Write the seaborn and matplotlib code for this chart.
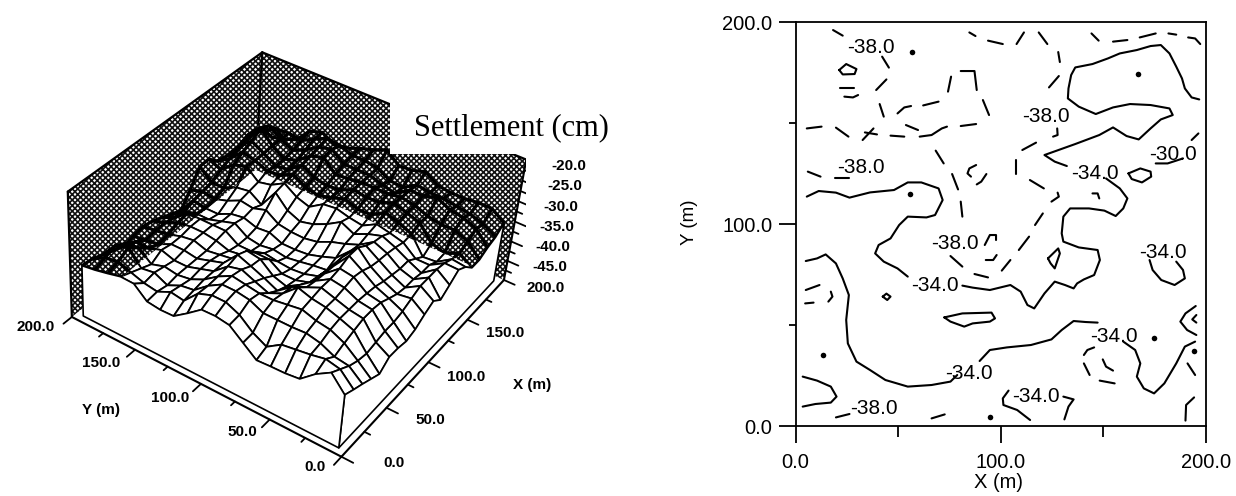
import numpy as np
import matplotlib
matplotlib.use('Agg')
import matplotlib.pyplot as plt
import seaborn as sns
from matplotlib.patches import Rectangle
from matplotlib.path import Path
from mpl_toolkits.mplot3d import proj3d
from mpl_toolkits.mplot3d.art3d import Poly3DCollection

# Step 1: values
x_nodes = [5, 15, 25, 35, 45, 55, 65, 75, 85, 95, 105, 115, 125, 135, 145, 155, 165, 175, 185, 195]
y_nodes = [195, 185, 175, 165, 155, 145, 135, 125, 115, 105, 95, 85, 75, 65, 55, 45, 35, 25, 15, 5]
settlement_z = [
    [-37.5, -37.8, -38.8, -39.7, -40.7, -40, -39.5, -40, -41, -42, -43, -39.5, -35.4, -35.3, -37.5, -38, -39, -38.5, -37.5, -37.2],
    [-37, -36, -35, -36.5, -38, -39.5, -39, -39, -39.5, -40, -39, -38.5, -38, -36.5, -35.5, -34, -33, -33.2, -35, -38.5],
    [-36.3, -35.5, -34, -36, -38, -39, -38.5, -37.5, -37, -39, -39.5, -39, -38, -34, -32.5, -31.5, -30, -31, -33.5, -37.7],
    [-35.5, -36.5, -37.5, -38.5, -37, -37.5, -37.5, -37, -37, -39, -39.5, -38, -36.5, -33, -33.3, -33.2, -33, -33, -33.2, -36.5],
    [-35.6, -37.5, -37, -37.5, -38, -37.5, -37, -37, -37, -38, -38, -36.5, -36, -35.5, -34.5, -35, -35, -34.5, -33.7, -33],
    [-38.3, -38, -38.5, -38, -38, -38, -38, -37.5, -37, -37, -37.5, -37, -38, -34.8, -34.2, -34.5, -33.9, -33, -32, -32],
    [-38.7, -36.5, -37, -37.5, -37, -37, -37.5, -38.5, -39, -39, -38.5, -36, -33.5, -33, -32.5, -32, -31.5, -31, -30.5, -33.8],
    [-38.6, -37, -36.5, -36, -36, -36, -37, -38, -39, -39.5, -38.2, -38, -36.5, -35, -34.3, -33.7, -30.5, -30.2, -31, -33.3],
    [-36.3, -33.7, -33.9, -33.7, -33.3, -32.5, -33.5, -36, -38, -39, -39.5, -38.5, -37.8, -36, -35, -34.3, -33.3, -32.5, -32, -32],
    [-33.8, -32.5, -32, -32, -32.5, -33.7, -34, -36, -38.5, -39.5, -39.5, -38.6, -37, -33.9, -34.1, -34, -33, -32.5, -32, -31],
    [-33.7, -32.5, -32, -32.5, -33.8, -35, -36.5, -38, -38.8, -39, -39.2, -38, -35.5, -33.5, -33, -32.5, -32.5, -32.5, -32.5, -29.7],
    [-34.2, -33.9, -32.5, -33, -35, -36.5, -37.5, -38, -38.5, -38.4, -38.2, -36.5, -33.5, -34.3, -34.1, -33, -32.5, -33.5, -34.2, -32.2],
    [-36.7, -36.5, -34, -33, -33.5, -34, -35.5, -37, -37.5, -38, -37, -35.5, -35, -34.8, -34, -32.8, -32.5, -34.2, -34.5, -32],
    [-39.2, -38.2, -34, -32.5, -30.5, -32.5, -33, -33.3, -33.5, -33.3, -33.7, -34.2, -33.5, -33, -32, -31.5, -32, -32, -32.5, -31],
    [-39, -36, -34, -32, -31.5, -31, -31, -30.5, -29.5, -29.5, -31, -32, -32.5, -33.7, -33, -32.5, -32.5, -32, -33, -33],
    [-38.9, -35.5, -33.8, -33, -32, -32, -31.5, -31, -31.5, -32.5, -33, -33.3, -33.8, -34.5, -34.3, -33.5, -33.7, -31, -33, -33.4],
    [-38.5, -35, -34.5, -33.5, -33, -33, -33, -33.3, -33.7, -34.5, -35, -35.5, -35.5, -37, -38.5, -37, -34.3, -32.5, -33.5, -33.4],
    [-35.6, -34.3, -36, -35, -34.2, -33.5, -33.5, -33.9, -35, -36, -36.5, -36.5, -37, -37, -38.2, -38, -34.2, -33, -34, -33],
    [-33.5, -35, -36.5, -37.5, -38, -37.5, -37, -37, -36.5, -35.5, -34.5, -34.5, -34.5, -35, -36, -36.5, -35.5, -34.3, -35, -33],
    [-37, -38.1, -39.1, -40.2, -41.3, -39.4, -39.5, -40, -39.3, -37.8, -36.6, -38.4, -36.8, -35.1, -36.4, -38.6, -38.6, -37.5, -36.8, -35.2],
]

# solid contour lines (-34)
contour_solid = [
    [(196.7,163.3),(193,164.3),(189.7,168.8),(188.3,173.8),(185.5,179.7),(182.2,186.3),(178,190.5),(173,190),(166.3,188),(158,186.3),(152.2,183.8),(144.7,181),(136.3,179.3),(134.3,175.5),(133,168.8),(132.7,163.8),(138,159.7),(146.3,156),(154.7,159.3),(163,161),(173,160.5),(182.2,158.8),(183.8,155.5),(178,153.3),(173,148.8),(167.2,143.3),(161.3,145),(154.7,149.3),(148,145.5),(136.3,141),(121.3,135.5),(126.3,132.2),(132.2,130)],
    [(151.3,123.8),(158,118.8),(161.7,113.8),(159.7,108.8),(156,105),(150.5,107.7),(143,108.8),(133.8,108.8),(130.5,104.7),(129.7,96.3),(130.5,92.2),(138,89.3),(147.2,88),(148.3,83),(145.5,75.5),(140.5,73.3),(137.2,71.3),(135.5,68.8),(131.3,70.5),(126.3,72.2),(121.3,66.3),(116.3,58.8),(113,60.5),(109.7,67.2),(104.7,70.5),(94.7,68),(86.3,69.2),(81.3,70.2)],
    [(54.7,74.7),(49.7,78.8),(43,82.2),(38.8,86.3),(40.5,90.5),(46.3,93.8),(50.5,100.5),(54.7,104.7),(63.8,104.3),(68,105.5),(71.7,113),(69.7,118.8),(61.3,121.8),(54.7,121.8),(48,118),(36.3,116.8),(26.3,114.2),(19.7,116.7),(11.3,117.5),(5.5,114.7)],
    [(5,82.5),(10.5,83.8),(14.7,85.8),(19.7,81.3),(23,73.8),(26,65.5),(24.7,53),(25.5,41.3),(29.7,32.2),(36.3,28),(43.8,23),(54.7,19.7),(66.3,20.5),(75.5,22.2),(78.8,25.5)],
    [(89.7,32.5),(94.7,38),(103,39.3),(114.7,40.5),(124.7,43.3),(129.7,48),(135.5,52.5),(141.3,52),(147.2,51.7)],
    [(159.7,42.2),(165.5,38),(168,31.3),(166.3,24.7),(169.7,18.8),(174.7,16.3),(179.7,21.3),(185.5,31.3),(189.7,39.7),(194.7,42.2)],
    [(162.2,126.3),(168,128.8),(173,127.2),(173.3,124.7),(168.8,121.8),(163.8,123.5),(162.2,126.3)],
    [(21.3,178),(24.7,181),(29.7,178.5),(28.8,176),(23,175.8),(21.3,178)],
    [(123,83.8),(128,88.8),(128.8,86.3),(126.3,78.8),(124.3,81.3),(123,83.8)],
    [(72.5,54.3),(81.3,56.3),(95.5,56.7),(97.2,53.8),(94.7,52.2),(86.3,51.3),(82.2,49.7),(75.5,52.2),(72.5,54.3)],
    [(42.5,64.7),(44.3,66.2),(46.3,64.7),(44.7,63),(42.5,64.7)],
    [(172.5,83),(174,78),(178.2,73),(184.7,70.5),(189.7,73.8),(188.8,78),(185.5,82.2)],
    [(3.5,24.7),(10.5,22.7),(17.2,19.7),(20,14.7),(17.2,11.7),(9.7,11),(3.5,9.7)],
    [(103.8,17.7),(101,13.8),(101.3,10.5),(108,8),(114.3,3)],
    [(130.5,14.7),(135.5,13.3),(133,9.7),(131,3.3)],
    [(190,2.7),(190.3,10.5),(194.2,14.3)],
    [(195,60),(190,56.3),(187.5,52.2),(190.8,48),(195.3,45.5)],
    [(195.3,55.5),(193.3,53.3),(195.3,51.7)],
    [(175.5,131.3),(181.3,131.3),(188.8,133.8)],
    [(144.7,116.3),(147.2,116.3),(148,113.8)],
]

# dashed contour pieces (-38)
contour_dashed = [
    [(18.3,198),(23,195.2)],[(84.7,196.8),(87.7,195)],[(93.8,192.7),(101,191)],[(107.7,191),(111.3,196.8)],
    [(118.5,196.8),(122.7,191)],[(144.2,196.3),(147.7,192.7)],[(154.7,192.2),(161.7,193)],[(167.7,194.3),(175.5,196.3)],
    [(181.7,196.3),(185.5,195.7)],[(191.3,194.3),(194.7,193.8),(197.2,191)],[(42.2,184.7),(45.5,179.2)],[(44.3,173.3),(39.3,168)],
    [(21.7,168.8),(28.5,168.8)],[(23.8,164.7),(28,164.3),(30.5,165.5)],[(75.8,174.7),(74.3,167.2)],[(80.5,177.5),(87.2,177.5),(88.3,168)],
    [(41,161),(43,154.7)],[(49.7,156.3),(53,159.3),(56.3,160)],[(62.2,160.3),(69.7,162.2)],[(91.3,163),(94.3,155.5)],
    [(5.5,148.8),(12.7,149.7)],[(19.7,149.2),(25.8,144.7)],[(32.7,143),(38,148.8)],[(33.8,146.8),(39.7,145.8)],
    [(46.3,145.2),(53,144.7)],[(53.8,150.5),(59.7,148)],[(60.5,144.7),(66.3,145.5),(71.3,148.8),(73.8,149.7)],[(80.5,150),(88,151)],
    [(68.3,137.7),(72.2,131.3)],[(76.3,126),(79.2,118.3)],[(80.5,112.2),(81.3,104.7)],[(88,130.5),(84.7,128.8),(83.8,126.3),(85.5,124.7)],
    [(93,126),(90.5,122.2),(88.3,120.8)],[(107.2,133),(107.2,126)],[(110.5,138),(117.2,141.7)],[(125.5,144.7),(127.7,145.5),(127.5,148.8)],
    [(123.5,169.3),(128.3,175)],[(114.2,123),(121,118.8)],[(124.7,112.2),(128.3,114.7),(127.7,116.7)],[(120.5,106.3),(116.7,100.5)],
    [(113.8,94.7),(108.8,88)],[(104.7,83),(100.5,77.7)],[(87.2,76),(93.8,74.3)],[(75.5,85),(81.3,79.7)],
    [(92.7,83),(96.3,83),(98,85.5)],[(92.2,90.5),(94.7,95.5),(97.7,95.5),(97.7,93)],[(193,143),(196.3,146.3)],[(6,127.2),(12.2,124.7)],
    [(19.3,123.8),(26.3,123.8)],[(5,68),(11.7,70.5)],[(17.2,67.2),(18,64.7),(16,62.2)],[(4.7,61.3),(8.8,61.7)],
    [(19.7,4.3),(26.3,6)],[(66.3,3.8),(72.7,5.8)],[(145.5,39.3),(142.2,38),(140.5,35.5)],[(140.5,31.3),(143.3,25.5)],
    [(149.7,33.3),(151.3,29.7),(154.7,27.7)],[(148.2,22.7),(155.5,21.3)],[(191,31.3),(194.7,25.5)],[(128,187),(128.8,182)],
]

spot_x = [56.8, 166.8, 56, 174.7, 13.5, 94.7, 194.2]
spot_y = [187.2, 176, 115.8, 43.8, 35.5, 4.3, 37.7]

contour_labels = ['-38.0', '-38.0', '-38.0', '-38.0', '-38.0', '-34.0', '-30.0', '-34.0', '-34.0', '-34.0', '-34.0', '-34.0']
label_x = [36.8, 122.2, 31.7, 77.7, 38, 146, 183.8, 68, 179.2, 155, 84.7, 117.2]
label_y = [189.3, 154.7, 129.2, 91.3, 8.8, 126.3, 136, 70.5, 86.8, 44.7, 26.3, 14.7]

axis_major = [0, 100, 200]
axis_minor = [50, 150]
base_ticks = [0, 50, 100, 150, 200]
z_ticks = [-20, -25, -30, -35, -40, -45]

sns.set_style('white')
plt.rcParams['font.family'] = ['Liberation Sans', 'DejaVu Sans']
plt.rcParams['text.color'] = 'black'
plt.rcParams['xtick.color'] = 'black'
plt.rcParams['ytick.color'] = 'black'
plt.rcParams['hatch.linewidth'] = 1.2
plt.rcParams['hatch.color'] = '#111111'

W, H = 1236, 496
fig = plt.figure(figsize=(W / 100, H / 100), dpi=100)

# Step 2: surface panel, camera fitted to the corners of the box
side, left, top = 466.8946, 58.9346, 11.2774
ax3 = fig.add_axes([left / W, 1 - (top + side) / H, side / W, side / H], projection='3d', computed_zorder=False)
ax3.set_xlim(0, 200, view_margin=0)
ax3.set_ylim(0, 200, view_margin=0)
ax3.set_zlim(-50, -20, view_margin=0)
ax3.set_axis_off()
ax3.patch.set_alpha(0)
ax3.view_init(37.9081, 210.6743, -4.6123)
ax3.set_proj_type('persp', focal_length=0.6272)
ax3.set_box_aspect((0.9389, 0.9311, 0.4535))
M = ax3.get_proj()

def clip_outline():
    corners = [(0,200,-20),(200,200,-20),(200,0,-20),(200,0,-50),(200,200,-50),(0,200,-50)]
    pts = [proj3d.proj_transform(a, b, c, M)[:2] for a, b, c in corners]
    return Path(pts + [pts[0]], closed=True)

X, Y = np.meshgrid(x_nodes, y_nodes)
Z = np.array(settlement_z)

# white skin first, walls hide what rises above their base
ax3.plot_surface(X, Y, Z, rstride=1, cstride=1, color='white', edgecolor='black', linewidth=1.3, shade=False, zorder=1)

wall_y = [(0,200,-50),(200,200,-50),(200,200,-20),(0,200,-20)]
wall_x = [(200,0,-50),(200,200,-50),(200,200,-20),(200,0,-20)]
walls = Poly3DCollection([wall_y, wall_x], facecolor='white', edgecolor='#111111', linewidth=0, hatch='xxxxxx', zorder=2)
ax3.add_collection3d(walls)
for a, b in [((0,200,-50),(0,200,-20)), ((0,200,-20),(200,200,-20)), ((200,200,-20),(200,0,-20)), ((200,200,-20),(200,200,-38))]:
    ax3.plot(*zip(a, b), color='black', lw=1.6, zorder=3)

wire = ax3.plot_wireframe(X, Y, Z, rstride=1, cstride=1, color='black', linewidth=2.3, zorder=4)
wire.set_clip_path(clip_outline(), ax3.transData)

# white front skirts
y_col = Y[:, 0]; z_col = Z[:, 0]
x_row = X[-1, :]; z_row = Z[-1, :]
skirt_a = [(5, yy, zz) for yy, zz in zip(y_col, z_col)] + [(5, 5, -50), (5, 195, -50)]
skirt_b = [(xx, 5, zz) for xx, zz in zip(x_row, z_row)] + [(195, 5, -50), (5, 5, -50)]
skirts = Poly3DCollection([skirt_a, skirt_b], facecolor='white', edgecolor='black', linewidth=1.2, zorder=5)
ax3.add_collection3d(skirts)

# outer base axes and ticks
ax3.plot([0, 200], [0, 0], [-50, -50], color='black', lw=1.5, zorder=6)
ax3.plot([0, 0], [0, 200], [-50, -50], color='black', lw=1.5, zorder=6)
ax3.plot([200, 200], [0, 0], [-50, -20], color='black', lw=1.5, zorder=6)
for t in base_ticks:
    ax3.plot([t, t], [0, -8], [-50, -50], color='black', lw=1.3, zorder=6)
    ax3.plot([0, -8], [t, t], [-50, -50], color='black', lw=1.3, zorder=6)
    if t < 200:
        ax3.plot([t + 25, t + 25], [0, -4], [-50, -50], color='black', lw=1.3, zorder=6)
        ax3.plot([0, -4], [t + 25, t + 25], [-50, -50], color='black', lw=1.3, zorder=6)
for z in z_ticks:
    ax3.plot([200, 200], [0, -8], [z, z], color='black', lw=1.3, zorder=6)
    ax3.plot([200, 200], [0, -4], [z - 2.5, z - 2.5], color='black', lw=1.3, zorder=6)

def px_text(x, y, s, **kw):
    fig.text(x / W, 1 - y / H, s, ha='center', va='center', **kw)

# hide the wall corner behind the heading
fig.add_artist(Rectangle((390 / W, 1 - 154 / H), 220 / W, 114 / H, transform=fig.transFigure, facecolor='white', edgecolor='none', zorder=5))
px_text(511, 128, 'Settlement (cm)', family='Liberation Serif', fontsize=22, zorder=6)
small = dict(fontsize=11, fontweight='bold', zorder=6)
for s, x, y in zip(['0.0', '50.0', '100.0', '150.0', '200.0'], [315, 242, 170, 101, 36], [467, 432, 398, 363, 327]):
    px_text(x, y, s, **small)
for s, x, y in zip(['0.0', '50.0', '100.0', '150.0', '200.0'], [394, 430, 466, 505, 546], [463, 420, 377, 333, 288]):
    px_text(x, y, s, **small)
for z, x, y in zip(z_ticks, [569, 565, 561, 557, 553, 550], [166, 186, 207, 227, 247, 267]):
    px_text(x, y, f'{z:.1f}', **small)
px_text(101, 410, 'Y (m)', **small)
px_text(532, 385, 'X (m)', **small)

# Step 3: contour panel
ax = fig.add_axes([795.5 / W, 1 - 426 / H, 410.5 / W, 404 / H])
Y_CAL = 0.99  # digitised at 6 zoom px per unit, the frame is 6.06

for piece in contour_solid + contour_dashed:
    xs = [p[0] for p in piece]
    ys = [p[1] * Y_CAL for p in piece]
    sns.lineplot(x=xs, y=ys, sort=False, estimator=None, color='black', linewidth=1.5, ax=ax, solid_capstyle='round', solid_joinstyle='round')
sns.scatterplot(x=spot_x, y=np.array(spot_y) * Y_CAL, color='black', s=16, linewidth=0, ax=ax)
for s, x, y in zip(contour_labels, label_x, label_y):
    ax.text(x, y * Y_CAL, s, fontsize=15, ha='center', va='center')

ax.set_xlim(0, 200)
ax.set_ylim(0, 200)
ax.set_xticks(axis_major)
ax.set_xticks(axis_minor, minor=True)
ax.set_yticks(axis_major)
ax.set_yticks(axis_minor, minor=True)
ax.set_xticklabels([f'{v:.1f}' for v in axis_major], fontsize=14.5)
ax.set_yticklabels([f'{v:.1f}' for v in axis_major], fontsize=14.5)
ax.tick_params(axis='both', which='major', bottom=True, left=True, length=12.5, width=1.3, color='black')
ax.tick_params(axis='x', which='major', pad=7)
ax.tick_params(axis='y', which='major', pad=4)
ax.tick_params(axis='x', which='minor', bottom=True, length=8, width=1.3, color='black')
ax.tick_params(axis='y', which='minor', left=True, length=5, width=1.3, color='black')
for sp in ax.spines.values():
    sp.set_visible(True)
    sp.set_color('black')
    sp.set_linewidth(1.3)
px_text(998, 483, 'X (m)', fontsize=14.5)
fig.text(690 / W, 1 - 222 / H, 'Y (m)', fontsize=13.5, rotation=90, ha='center', va='center')

fig.savefig('out.png', dpi=100)
